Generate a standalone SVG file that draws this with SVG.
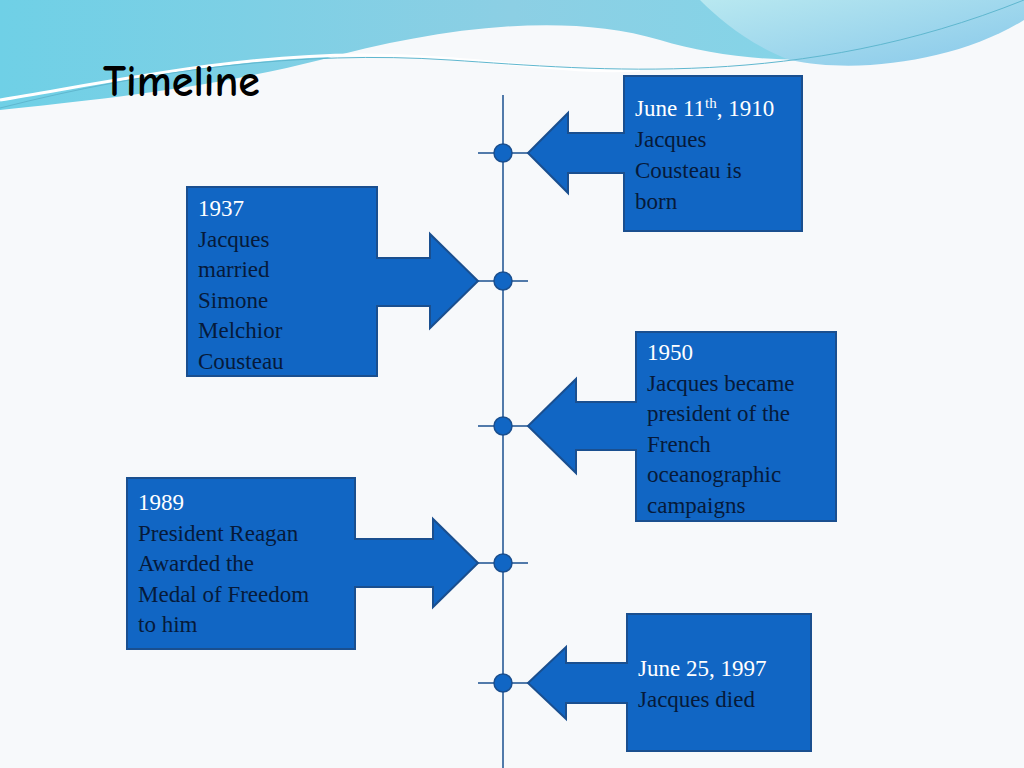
<svg xmlns="http://www.w3.org/2000/svg" width="1024" height="768" viewBox="0 0 1024 768">
<defs>
<linearGradient id="wv" x1="0" y1="0" x2="1" y2="0"><stop offset="0" stop-color="#6fd0e6"/><stop offset="0.5" stop-color="#8ccfe4"/><stop offset="1" stop-color="#7fd8ea"/></linearGradient>
<linearGradient id="wv2" x1="0" y1="0" x2="1" y2="1"><stop offset="0" stop-color="#b8e8f0"/><stop offset="1" stop-color="#88c8ea"/></linearGradient>
<style>
.box{fill:#1166c4;stroke:#1a4f8f;stroke-width:2}
.t{font-family:"Liberation Serif",serif;font-size:23px;fill:#061a3a}
.w{fill:#ffffff}
.dot{fill:#1166c4;stroke:#1a4f8f;stroke-width:1.5}
</style>
</defs>
<rect width="1024" height="768" fill="#f7f9fb"/>
<path d="M0 0 H1024 V10 C900 70 760 70 660 40 C560 10 430 30 320 60 C200 90 90 100 0 110 Z" fill="url(#wv)"/>
<path d="M700 0 H1024 V20 C960 60 860 75 790 60 C750 45 720 20 700 0 Z" fill="url(#wv2)"/>
<path d="M0 100 C120 80 240 55 360 55 C480 55 560 75 640 70" fill="none" stroke="#ffffff" stroke-width="3"/>
<path d="M0 108 C150 70 300 50 450 60 C600 70 800 90 1024 0" fill="none" stroke="#5fb7cf" stroke-width="1"/>
<text x="103" y="96" font-family="'Comic Neue','DejaVu Sans',sans-serif" font-weight="bold" font-size="44" fill="#000">Timeline</text>
<g id="connectors" stroke="#1a4f8f" stroke-width="1.5">
<line x1="503" y1="95" x2="503" y2="768"/>
<line x1="478" y1="153" x2="528" y2="153"/>
<line x1="478" y1="281" x2="528" y2="281"/>
<line x1="478" y1="426" x2="528" y2="426"/>
<line x1="478" y1="563" x2="528" y2="563"/>
<line x1="478" y1="683" x2="528" y2="683"/>
</g>
<g id="dots">
<circle class="dot" cx="503" cy="153" r="9"/><circle class="dot" cx="503" cy="281" r="9"/><circle class="dot" cx="503" cy="426" r="9"/><circle class="dot" cx="503" cy="563" r="9"/><circle class="dot" cx="503" cy="683" r="9"/>
</g>
<g id="n1910">
<path class="box" d="M624 76 H802 V231 H624 V173 H568 V193 L528 153 L568 113 V133 H624 Z"/>
<text class="t" x="635" y="116"><tspan class="w">June 11<tspan font-size="15" dy="-8">th</tspan><tspan dy="8">, 1910</tspan></tspan><tspan x="635" dy="31">Jacques</tspan><tspan x="635" dy="31">Cousteau is</tspan><tspan x="635" dy="31">born</tspan></text>
</g>
<g id="n1937">
<path class="box" d="M187 187 H377 V258 H430 V234 L478 281 L430 328 V306 H377 V376 H187 Z"/>
<text class="t" x="198" y="216"><tspan class="w">1937</tspan><tspan x="198" dy="30.5">Jacques</tspan><tspan x="198" dy="30.5">married</tspan><tspan x="198" dy="30.5">Simone</tspan><tspan x="198" dy="30.5">Melchior</tspan><tspan x="198" dy="30.5">Cousteau</tspan></text>
</g>
<g id="n1950">
<path class="box" d="M636 332 H836 V521 H636 V450 H576 V473 L528 426 L576 379 V402 H636 Z"/>
<text class="t" x="647" y="360"><tspan class="w">1950</tspan><tspan x="647" dy="30.5">Jacques became</tspan><tspan x="647" dy="30.5">president of the</tspan><tspan x="647" dy="30.5">French</tspan><tspan x="647" dy="30.5">oceanographic</tspan><tspan x="647" dy="30.5">campaigns</tspan></text>
</g>
<g id="n1989">
<path class="box" d="M127 478 H355 V539 H433 V519 L478 563 L433 607 V587 H355 V649 H127 Z"/>
<text class="t" x="138" y="510"><tspan class="w">1989</tspan><tspan x="138" dy="30.5">President Reagan</tspan><tspan x="138" dy="30.5">Awarded the</tspan><tspan x="138" dy="30.5">Medal of Freedom</tspan><tspan x="138" dy="30.5">to him</tspan></text>
</g>
<g id="n1997">
<path class="box" d="M627 614 H811 V751 H627 V703 H566 V719 L528 683 L566 647 V663 H627 Z"/>
<text class="t" x="638" y="676"><tspan class="w">June 25, 1997</tspan><tspan x="638" dy="30.5">Jacques died</tspan></text>
</g>
</svg>
